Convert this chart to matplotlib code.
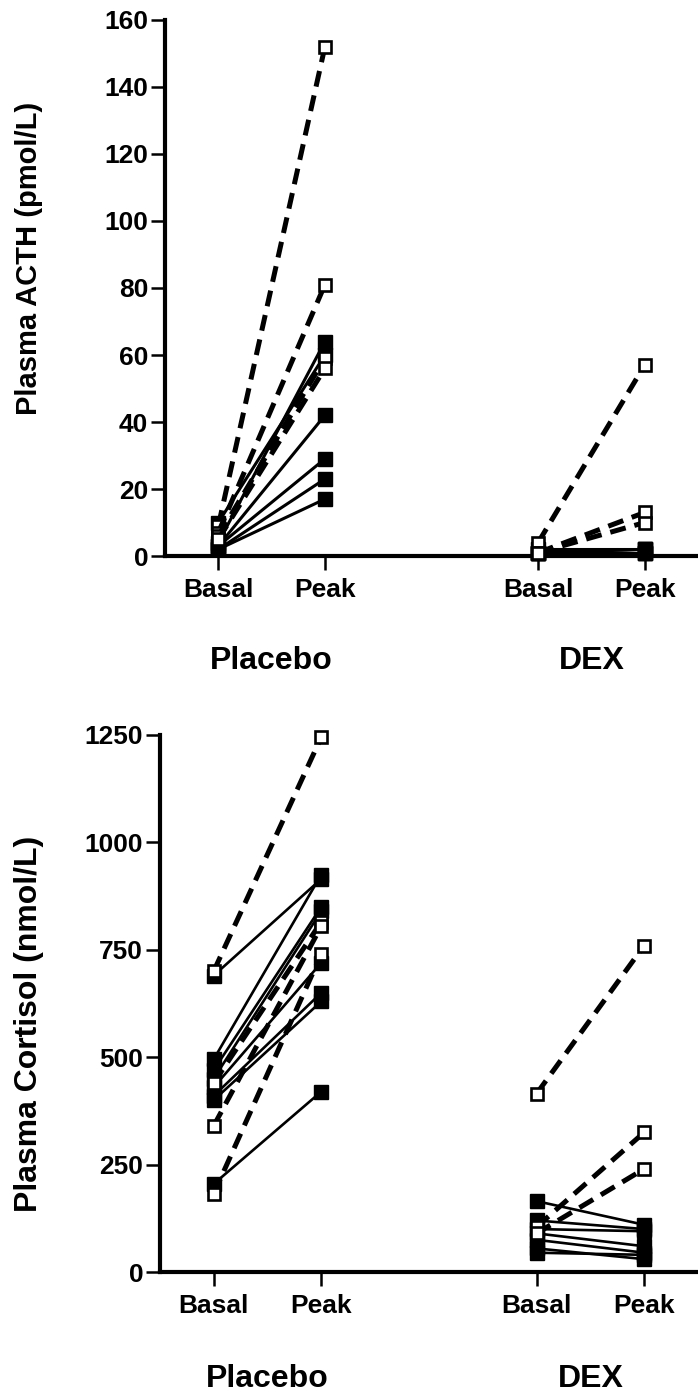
import matplotlib
matplotlib.use("Agg")
import matplotlib.pyplot as plt

plt.rcParams["font.family"] = ["Liberation Sans", "DejaVu Sans"]
plt.rcParams["font.weight"] = "bold"

# x positions: Placebo basal/peak, DEX basal/peak
x_pos = [1, 2, 4, 5]
tick_labels = ["Basal", "Peak", "Basal", "Peak"]
groups = ["Placebo", "DEX"]

# ---- ACTH (pmol/L) ----
acth_plc_solid_basal = [4, 10, 3, 3, 2, 2]
acth_plc_solid_peak = [64, 60, 42, 29, 23, 17]
acth_plc_dash_basal = [9, 7, 6, 5]
acth_plc_dash_peak = [152, 81, 59, 56]
acth_dex_solid_basal = [1, 1, 1, 1, 1, 2]
acth_dex_solid_peak = [2, 2, 1, 1, 1, 2]
acth_dex_dash_basal = [4, 1, 1]
acth_dex_dash_peak = [57, 13, 10]

# ---- Cortisol (nmol/L) ----
cort_plc_solid_basal = [690, 495, 470, 450, 430, 410, 400, 205]
cort_plc_solid_peak = [915, 925, 850, 840, 720, 650, 630, 420]
cort_plc_dash_basal = [700, 440, 340, 182]
cort_plc_dash_peak = [1245, 815, 805, 740]
cort_dex_solid_basal = [165, 120, 100, 90, 75, 55, 45]
cort_dex_solid_peak = [110, 100, 95, 60, 45, 30, 40]
cort_dex_dash_basal = [415, 105, 90]
cort_dex_dash_peak = [760, 325, 240]


def draw_pairs(ax, x0, x1, basal, peak, dashed, lw):
    for b, p in zip(basal, peak):
        if dashed:
            ax.plot([x0, x1], [b, p], color="black", lw=3.6,
                    ls=(0, (3.2, 1.8)), dash_capstyle="butt",
                    marker="s", ms=8.5, mfc="white", mec="black",
                    mew=1.9, clip_on=False, zorder=3)
        else:
            ax.plot([x0, x1], [b, p], color="black", lw=lw, ls="-",
                    marker="s", ms=10, mfc="black", mec="black",
                    clip_on=False, zorder=2)


def style_axes(ax, yticks, ylabel, label_xy, label_size, group_y):
    for side in ["top", "right"]:
        ax.spines[side].set_visible(False)
    for side in ["left", "bottom"]:
        ax.spines[side].set_linewidth(3)
    ax.set_xlim(0.5, 5.5)
    ax.set_xticks(x_pos)
    ax.set_xticklabels(tick_labels)
    ax.set_yticks(yticks)
    ax.tick_params(axis="both", length=10, width=1.8, labelsize=19)
    ax.tick_params(axis="x", pad=6)
    ax.tick_params(axis="y", pad=2)
    for lab in ax.get_xticklabels() + ax.get_yticklabels():
        lab.set_fontweight("bold")
    ax.set_ylabel(ylabel, fontsize=label_size, fontweight="bold")
    ax.yaxis.set_label_coords(*label_xy)
    for gx, g in zip([1.5, 4.5], groups):
        ax.text(gx, group_y, g, transform=ax.get_xaxis_transform(),
                ha="center", va="center", fontsize=23, fontweight="bold")


fig = plt.figure(figsize=(6.98, 13.96), dpi=100)
ax1 = fig.add_axes([0.2364, 0.6017, 0.7636, 0.384])
ax2 = fig.add_axes([0.229, 0.0888, 0.771, 0.3847])

draw_pairs(ax1, 1, 2, acth_plc_solid_basal, acth_plc_solid_peak, False, 2.2)
draw_pairs(ax1, 1, 2, acth_plc_dash_basal, acth_plc_dash_peak, True, 2.2)
draw_pairs(ax1, 4, 5, acth_dex_solid_basal, acth_dex_solid_peak, False, 2.2)
draw_pairs(ax1, 4, 5, acth_dex_dash_basal, acth_dex_dash_peak, True, 2.2)
ax1.set_ylim(0, 160)
style_axes(ax1, range(0, 161, 20), "Plasma ACTH (pmol/L)",
           (-0.229, 0.556), 21, -0.195)

draw_pairs(ax2, 1, 2, cort_plc_solid_basal, cort_plc_solid_peak, False, 1.9)
draw_pairs(ax2, 1, 2, cort_plc_dash_basal, cort_plc_dash_peak, True, 1.9)
draw_pairs(ax2, 4, 5, cort_dex_solid_basal, cort_dex_solid_peak, False, 1.9)
draw_pairs(ax2, 4, 5, cort_dex_dash_basal, cort_dex_dash_peak, True, 1.9)
ax2.set_ylim(0, 1250)
style_axes(ax2, range(0, 1251, 250), "Plasma Cortisol (nmol/L)",
           (-0.215, 0.462), 23, -0.2)

fig.savefig("out.png", dpi=100)
